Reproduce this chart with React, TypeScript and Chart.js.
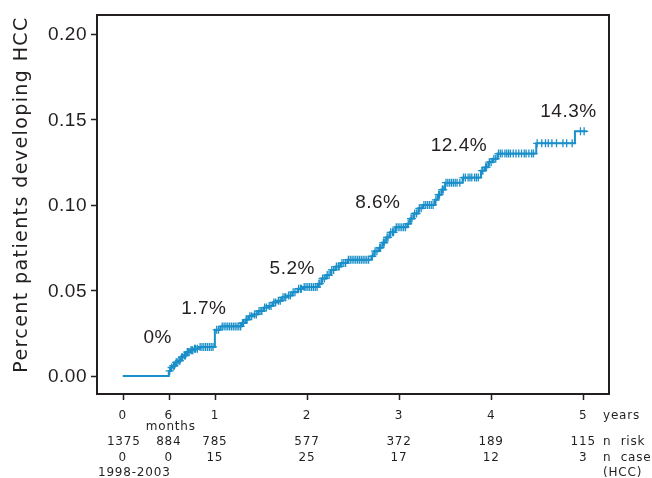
import { useEffect, useRef } from 'react';
import { Chart, registerables } from 'chart.js';

Chart.register(...registerables);

// Kaplan-Meier cumulative incidence: step times (years) and value after each step
const eventTimes = [
  0.50, 0.52, 0.54, 0.57, 0.60, 0.63, 0.66, 0.69, 0.73, 0.77, 0.83,
  1.00, 1.06, 1.29, 1.33, 1.37, 1.42, 1.47, 1.53, 1.58, 1.63, 1.68, 1.73, 1.79, 1.84, 1.90, 1.96,
  2.12, 2.16, 2.21, 2.26, 2.31, 2.37, 2.44, 2.70, 2.73, 2.78, 2.82, 2.86, 2.90, 2.96,
  3.09, 3.12, 3.16, 3.21, 3.26, 3.39, 3.42, 3.46, 3.50, 3.69, 3.89, 3.93, 3.97,
  4.02, 4.07, 4.49, 4.91,
];
const eventValues = [
  0.003, 0.005, 0.006, 0.008, 0.009, 0.011, 0.012, 0.014, 0.015, 0.016, 0.017,
  0.027, 0.029, 0.031, 0.033, 0.035, 0.036, 0.038, 0.040, 0.041, 0.043, 0.044, 0.046, 0.047, 0.049, 0.051, 0.052,
  0.054, 0.057, 0.059, 0.062, 0.064, 0.066, 0.068, 0.070, 0.073, 0.075, 0.078, 0.081, 0.084, 0.087,
  0.089, 0.092, 0.095, 0.098, 0.100, 0.103, 0.106, 0.109, 0.113, 0.116, 0.120, 0.122, 0.125,
  0.127, 0.130, 0.136, 0.143,
];
const followUpEnd = 5.04;

// censored observations (years)
const censorTimes = [
  0.51, 0.53, 0.55, 0.56, 0.58, 0.59, 0.61, 0.62, 0.64, 0.65, 0.67, 0.68, 0.70, 0.71, 0.72, 0.74,
  0.75, 0.76, 0.78, 0.79, 0.81, 0.84, 0.86, 0.88, 0.90, 0.92, 0.94, 0.96, 0.98,
  1.02, 1.04, 1.08, 1.10, 1.12, 1.14, 1.16, 1.18, 1.20, 1.22, 1.24, 1.26, 1.28, 1.30, 1.31, 1.34,
  1.35, 1.38, 1.40, 1.43, 1.45, 1.48, 1.50, 1.51, 1.54, 1.56, 1.59, 1.61, 1.64, 1.66, 1.69, 1.71,
  1.74, 1.76, 1.77, 1.80, 1.82, 1.85, 1.87, 1.91, 1.93, 1.94, 1.97, 1.99,
  2.01, 2.03, 2.05, 2.07, 2.09, 2.11, 2.13, 2.14, 2.17, 2.19, 2.22, 2.24, 2.27, 2.29, 2.32, 2.34,
  2.35, 2.38, 2.40, 2.42, 2.45, 2.47, 2.49, 2.51, 2.53, 2.55, 2.57, 2.59, 2.61, 2.63, 2.65, 2.67,
  2.71, 2.74, 2.76, 2.79, 2.80, 2.83, 2.84, 2.87, 2.88, 2.91, 2.93, 2.94, 2.97, 2.99,
  3.01, 3.03, 3.05, 3.07, 3.10, 3.13, 3.14, 3.17, 3.19, 3.22, 3.24, 3.27, 3.29, 3.31, 3.33, 3.35,
  3.37, 3.40, 3.43, 3.44, 3.47, 3.48, 3.51, 3.53, 3.55, 3.57, 3.59, 3.61, 3.63, 3.66, 3.70, 3.72,
  3.75, 3.77, 3.79, 3.82, 3.84, 3.86, 3.90, 3.91, 3.94, 3.95, 3.98,
  4.00, 4.03, 4.05, 4.08, 4.10, 4.12, 4.15, 4.17, 4.19, 4.21, 4.24, 4.27, 4.30, 4.33, 4.36, 4.38,
  4.41, 4.44, 4.46, 4.50, 4.55, 4.59, 4.62, 4.66, 4.71, 4.78, 4.82, 4.88, 4.97, 5.01,
];

// x axis / table
const tickYears = [0, 0.5, 1, 2, 3, 4, 5];
const tickYearLabels = ['0', '6', '1', '2', '3', '4', '5'];
const nRisk = [1375, 884, 785, 577, 372, 189, 115];
const nCases = [0, 0, 15, 25, 17, 12, 3];
const yTicks = [0, 0.05, 0.1, 0.15, 0.2];

// percentage annotations and their anchor (data units)
const pctLabels = ['0%', '1.7%', '5.2%', '8.6%', '12.4%', '14.3%'];
const pctLabelX = [0.38, 0.88, 1.84, 2.77, 3.65, 4.84];
const pctLabelY = [0.0222, 0.0392, 0.0626, 0.1015, 0.1345, 0.1544];

const BLUE = '#1a8fc9';
const INK = '#231f20';

function valueAt(t: number): number {
  let v = 0;
  for (let i = 0; i < eventTimes.length; i++) {
    if (eventTimes[i] <= t) v = eventValues[i];
  }
  return v;
}

const decorPlugin = {
  id: 'decor',
  afterDraw(chart: any) {
    const ctx = chart.ctx as CanvasRenderingContext2D;
    const xs = chart.scales.x;
    const ys = chart.scales.y;
    const { left, right, top, bottom } = chart.chartArea;
    ctx.save();
    // frame
    ctx.strokeStyle = INK;
    ctx.lineWidth = 2;
    ctx.strokeRect(left, top, right - left, bottom - top);
    // tick marks
    ctx.lineWidth = 1.5;
    ctx.beginPath();
    yTicks.forEach((v) => {
      const py = Math.round(ys.getPixelForValue(v)) + 0.5;
      ctx.moveTo(left - 6, py);
      ctx.lineTo(left, py);
    });
    tickYears.forEach((v) => {
      const px = Math.round(xs.getPixelForValue(v)) + 0.5;
      ctx.moveTo(px, bottom);
      ctx.lineTo(px, bottom + 6);
    });
    ctx.stroke();

    ctx.fillStyle = INK;
    const c = ctx as any;
    // y tick labels
    ctx.font = '19px "Liberation Sans"';
    c.letterSpacing = '0.5px';
    ctx.textAlign = 'right';
    ctx.textBaseline = 'middle';
    yTicks.forEach((v) => {
      ctx.fillText(v.toFixed(2), 87, ys.getPixelForValue(v) + 1);
    });

    // y title
    ctx.font = '19px "DejaVu Sans"';
    const title = 'Percent patients developing HCC';
    c.letterSpacing = '0px';
    const w0 = ctx.measureText(title).width;
    const sp = (355 - w0) / (title.length - 1);
    c.letterSpacing = sp + 'px';
    ctx.save();
    ctx.translate(27, 194.5);
    ctx.rotate(-Math.PI / 2);
    ctx.textAlign = 'center';
    ctx.textBaseline = 'alphabetic';
    ctx.fillText(title, 0, 0);
    ctx.restore();

    // percentage annotations
    ctx.font = '19px "Liberation Sans"';
    c.letterSpacing = '0.5px';
    ctx.textAlign = 'center';
    ctx.textBaseline = 'middle';
    pctLabels.forEach((s, i) => {
      ctx.fillText(s, xs.getPixelForValue(pctLabelX[i]), ys.getPixelForValue(pctLabelY[i]));
    });

    // table below the axis
    ctx.font = '12px "DejaVu Sans"';
    c.letterSpacing = '0.8px';
    ctx.textBaseline = 'alphabetic';
    ctx.textAlign = 'center';
    tickYears.forEach((v, i) => {
      const px = xs.getPixelForValue(v);
      ctx.fillText(tickYearLabels[i], px, 419);
      ctx.fillText(String(nRisk[i]), px + (i === 0 ? 1 : 0), 444.5);
      ctx.fillText(String(nCases[i]), px, 460.5);
    });
    ctx.fillText('months', xs.getPixelForValue(0.5) + 2, 429.5);
    ctx.textAlign = 'left';
    ctx.fillText('years', 603, 419);
    ctx.fillText('n  risk', 603, 444.5);
    ctx.fillText('n  cases', 603, 460.5);
    ctx.fillText('(HCC)', 603, 476);
    ctx.fillText('1998-2003', 98, 476);
    ctx.restore();
  },
};

export default function App() {
  const ref = useRef<HTMLCanvasElement>(null);
  useEffect(() => {
    document.body.style.margin = '0';
    document.body.style.overflow = 'hidden';
    const curve = [{ x: 0, y: 0 }]
      .concat(eventTimes.map((t, i) => ({ x: t, y: eventValues[i] })))
      .concat([{ x: followUpEnd, y: eventValues[eventValues.length - 1] }]);
    const censored = censorTimes.map((t) => ({ x: t, y: valueAt(t) }));
    const chart = new Chart(ref.current as HTMLCanvasElement, {
      type: 'line',
      data: {
        datasets: [
          {
            data: censored,
            showLine: false,
            pointStyle: 'cross',
            pointRadius: 4,
            pointBorderWidth: 1.3,
            pointBorderColor: BLUE,
            pointBackgroundColor: BLUE,
            borderColor: BLUE,
          },
          {
            data: curve,
            stepped: true,
            borderColor: BLUE,
            borderWidth: 2,
            pointRadius: 0,
            fill: false,
          },
        ],
      },
      options: {
        animation: false,
        responsive: false,
        events: [],
        layout: { padding: { left: 97, top: 15, right: 43, bottom: 84 } },
        plugins: { legend: { display: false }, tooltip: { enabled: false } },
        scales: {
          x: { type: 'linear', min: -0.28, max: 5.28, display: false },
          y: { type: 'linear', min: -0.0105, max: 0.211, display: false },
        },
      },
      plugins: [decorPlugin],
    } as any);
    return () => chart.destroy();
  }, []);
  return <canvas ref={ref} width={652} height={478} style={{ display: 'block' }} />;
}
